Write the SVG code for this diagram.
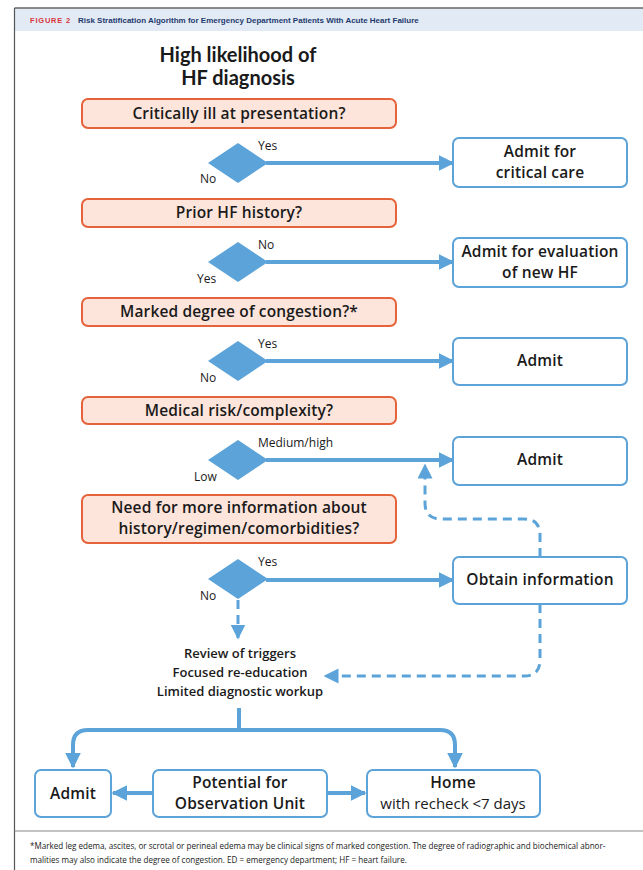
<svg xmlns="http://www.w3.org/2000/svg" width="643" height="870" viewBox="0 0 643 870">
<defs>
<style>
.q{fill:#fde5dc;stroke:#e5633a;stroke-width:2}
.b{fill:#ffffff;stroke:#5ba3d9;stroke-width:2}
.d{fill:#5ba3d9}
.t{font-family:"Open Sans","Noto Sans","Liberation Sans",sans-serif;fill:#1a1a1a}
.m{font-size:15.5px;font-weight:600;text-anchor:middle;letter-spacing:0.15px}
.s{font-size:12px}
.r{font-size:13px;font-weight:600;text-anchor:middle}
.c{fill:none;stroke:#5ba3d9;stroke-width:4}
.dash{fill:none;stroke:#5ba3d9;stroke-width:3;stroke-dasharray:9 6}
</style>
<marker id="ah" viewBox="0 0 10 10" refX="9" refY="5" markerWidth="4" markerHeight="4" orient="auto" markerUnits="strokeWidth"><path d="M0,0 L10,5 L0,10 z" fill="#5ba3d9"/></marker>
<marker id="ah2" viewBox="0 0 10 10" refX="9" refY="5" markerWidth="5" markerHeight="5" orient="auto" markerUnits="strokeWidth"><path d="M0,0 L10,5 L0,10 z" fill="#5ba3d9"/></marker>
</defs>
<rect width="643" height="870" fill="#ffffff"/>
<g id="frame">
<rect x="14.5" y="8" width="640" height="23" fill="#e2ebf5"/>
<line x1="14.5" y1="8" x2="643" y2="8" stroke="#666" stroke-width="1.5"/>
<line x1="14.5" y1="8" x2="14.5" y2="870" stroke="#555" stroke-width="1.2"/>
<line x1="14.5" y1="831" x2="643" y2="831" stroke="#888" stroke-width="1.2"/>
<text x="30" y="23" font-family="'Liberation Sans',sans-serif" font-size="7.5" font-weight="bold" fill="#d9343a" letter-spacing="0.8">FIGURE 2</text>
<text x="78" y="23" font-family="'Liberation Sans',sans-serif" font-size="8" font-weight="bold" fill="#1f3a6e">Risk Stratification Algorithm for Emergency Department Patients With Acute Heart Failure</text>
<text x="238" y="62" font-family="Lato,'Open Sans',sans-serif" fill="#1a1a1a" font-size="20" font-weight="bold" text-anchor="middle">High likelihood of</text>
<text x="238" y="85" font-family="Lato,'Open Sans',sans-serif" fill="#1a1a1a" font-size="20" font-weight="bold" text-anchor="middle">HF diagnosis</text>
<text class="t" x="30" y="849" font-size="8.1">*Marked leg edema, ascites, or scrotal or perineal edema may be clinical signs of marked congestion. The degree of radiographic and biochemical abnor-</text>
<text class="t" x="30" y="863" font-size="8.1">malities may also indicate the degree of congestion. ED = emergency department; HF = heart failure.</text>
</g>
<g id="connectors">
<line class="c" x1="266" y1="163" x2="453" y2="163" marker-end="url(#ah)"/>
<line class="c" x1="266" y1="262" x2="453" y2="262" marker-end="url(#ah)"/>
<line class="c" x1="266" y1="361" x2="453" y2="361" marker-end="url(#ah)"/>
<line class="c" x1="266" y1="460" x2="453" y2="460" marker-end="url(#ah)"/>
<line class="c" x1="266" y1="580" x2="453" y2="580" marker-end="url(#ah)"/>
<path class="dash" d="M540,557 V535 Q540,519 524,519 H441 Q425,519 425,503 V465" marker-end="url(#ah2)"/>
<path class="dash" d="M238,600 V638" marker-end="url(#ah2)"/>
<path class="dash" d="M540,604 V660 Q540,676 524,676 H325" marker-end="url(#ah2)"/>
<path class="c" d="M239,708 V730 H88 Q73,730 73,745 V767" marker-end="url(#ah)"/>
<path class="c" d="M239,730 H440 Q455,730 455,745 V767" marker-end="url(#ah)"/>
<line class="c" x1="153" y1="793" x2="113" y2="793" marker-end="url(#ah)"/>
<line class="c" x1="327" y1="793" x2="365" y2="793" marker-end="url(#ah)"/>
</g>
<g id="q1"><rect class="q" x="82" y="99" width="314" height="29" rx="6"/><text class="t m" x="239" y="119">Critically ill at presentation?</text></g>
<g id="d1"><path class="d" d="M238,143 L268,163 L238,183 L208,163 z"/><text class="t s" x="258" y="150">Yes</text><text class="t s" x="200" y="183">No</text></g>
<g id="a1"><rect class="b" x="453" y="138" width="174" height="49" rx="6"/><text class="t m" x="540" y="157">Admit for</text><text class="t m" x="540" y="178">critical care</text></g>
<g id="q2"><rect class="q" x="82" y="199" width="314" height="28" rx="6"/><text class="t m" x="239" y="218">Prior HF history?</text></g>
<g id="d2"><path class="d" d="M238,242 L268,262 L238,282 L208,262 z"/><text class="t s" x="258" y="249">No</text><text class="t s" x="197" y="283">Yes</text></g>
<g id="a2"><rect class="b" x="453" y="238" width="174" height="49" rx="6"/><text class="t m" x="540" y="257">Admit for evaluation</text><text class="t m" x="540" y="278">of new HF</text></g>
<g id="q3"><rect class="q" x="82" y="298" width="314" height="28" rx="6"/><text class="t m" x="239" y="317">Marked degree of congestion?*</text></g>
<g id="d3"><path class="d" d="M238,341 L268,361 L238,381 L208,361 z"/><text class="t s" x="258" y="348">Yes</text><text class="t s" x="200" y="382">No</text></g>
<g id="a3"><rect class="b" x="453" y="338" width="174" height="47" rx="6"/><text class="t m" x="540" y="366">Admit</text></g>
<g id="q4"><rect class="q" x="82" y="397" width="314" height="27" rx="6"/><text class="t m" x="239" y="416">Medical risk/complexity?</text></g>
<g id="d4"><path class="d" d="M238,440 L268,460 L238,480 L208,460 z"/><text class="t s" x="258" y="447">Medium/high</text><text class="t s" x="194" y="481">Low</text></g>
<g id="a4"><rect class="b" x="453" y="437" width="174" height="48" rx="6"/><text class="t m" x="540" y="465">Admit</text></g>
<g id="q5"><rect class="q" x="82" y="495" width="314" height="48" rx="6"/><text class="t m" x="239" y="513">Need for more information about</text><text class="t m" x="239" y="534">history/regimen/comorbidities?</text></g>
<g id="d5"><path class="d" d="M238,559 L268,579 L238,599 L208,579 z"/><text class="t s" x="258" y="566">Yes</text><text class="t s" x="200" y="600">No</text></g>
<g id="a5"><rect class="b" x="453" y="557" width="174" height="47" rx="6"/><text class="t m" x="540" y="585">Obtain information</text></g>
<g id="review"><text class="t r" x="240" y="658">Review of triggers</text><text class="t r" x="240" y="677">Focused re-education</text><text class="t r" x="240" y="696">Limited diagnostic workup</text></g>
<g id="admit"><rect class="b" x="35" y="770" width="76" height="47" rx="6"/><text class="t m" x="73" y="799">Admit</text></g>
<g id="obs"><rect class="b" x="153" y="770" width="174" height="47" rx="6"/><text class="t m" x="240" y="788">Potential for</text><text class="t m" x="240" y="809">Observation Unit</text></g>
<g id="home"><rect class="b" x="367" y="770" width="173" height="47" rx="6"/><text class="t m" x="453" y="788">Home</text><text class="t" font-size="15" text-anchor="middle" x="453" y="809">with recheck &lt;7 days</text></g>
</svg>
